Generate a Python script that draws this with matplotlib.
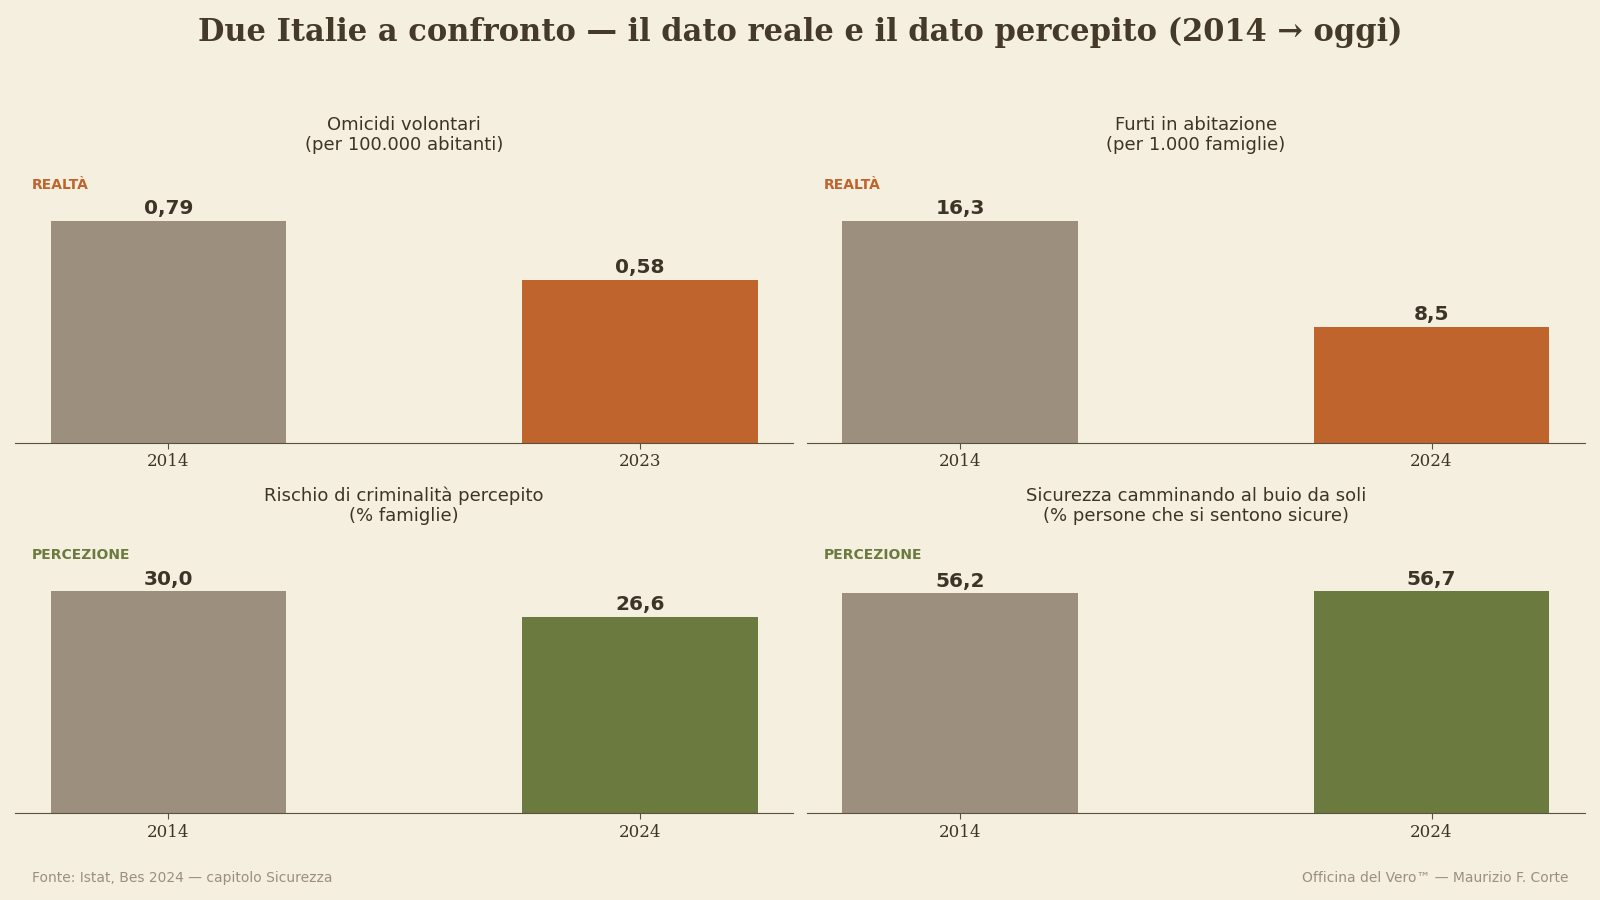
import matplotlib
matplotlib.use("Agg")
import matplotlib.pyplot as plt

# dati (Istat, Bes 2024)
titles = ["Omicidi volontari\n(per 100.000 abitanti)",
          "Furti in abitazione\n(per 1.000 famiglie)",
          "Rischio di criminalità percepito\n(% famiglie)",
          "Sicurezza camminando al buio da soli\n(% persone che si sentono sicure)"]
years = [["2014", "2023"], ["2014", "2024"], ["2014", "2024"], ["2014", "2024"]]
values = [[0.79, 0.58], [16.3, 8.5], [30.0, 26.6], [56.2, 56.7]]
labels = [["0,79", "0,58"], ["16,3", "8,5"], ["30,0", "26,6"], ["56,2", "56,7"]]
tags = ["REALTÀ", "REALTÀ", "PERCEZIONE", "PERCEZIONE"]

BG = "#f5efe0"
INK = "#3d3428"
GREY = "#9c8f7d"
ORANGE = "#c0642e"
GREEN = "#6b7a3e"
tag_col = {"REALTÀ": ORANGE, "PERCEZIONE": GREEN}

fig = plt.figure(figsize=(16, 9), dpi=100, facecolor=BG)

# misure prese sull'immagine (1568x882)
PW, PH = 1568, 882
W = 762 / PW
H = 250 / PH
pos = [(15 / PW, 1 - 434 / PH), (791 / PW, 1 - 434 / PH),
       (15 / PW, 1 - 797 / PH), (791 / PW, 1 - 797 / PH)]

for i in range(4):
    ax = fig.add_axes([pos[i][0], pos[i][1], W, H])
    ax.set_facecolor(BG)
    c = tag_col[tags[i]]
    bars = ax.bar([0, 1], values[i], width=0.5, color=[GREY, c])
    ax.set_ylim(0, max(values[i]) * 1.15)
    for b, lab in zip(bars, labels[i]):
        ax.annotate(lab, (b.get_x() + b.get_width() / 2, b.get_height()),
                    xytext=(0, 2), textcoords="offset points",
                    ha="center", va="bottom", fontsize=14.5, fontweight="bold", color=INK)
    ax.set_xticks([0, 1])
    ax.set_xticklabels(years[i], family="DejaVu Serif", fontsize=12, color=INK)
    ax.tick_params(axis="x", color="#5a5040", length=4)
    ax.set_yticks([])
    for s in ["top", "right", "left"]:
        ax.spines[s].set_visible(False)
    ax.spines["bottom"].set_color("#5a5040")
    ax.set_title(titles[i], fontsize=13, color=INK, pad=27, linespacing=1.15)
    ax.text(0.021, 0.985, tags[i], transform=ax.transAxes, fontsize=10,
            fontweight="bold", color=c, ha="left", va="bottom")

fig.text(0.5, 1 - 32 / PH, "Due Italie a confronto — il dato reale e il dato percepito (2014 → oggi)",
         family="DejaVu Serif", fontsize=22, fontweight="bold", color="#45392a",
         ha="center", va="center")
fig.text(31 / PW, 1 - 860 / PH, "Fonte: Istat, Bes 2024 — capitolo Sicurezza",
         fontsize=10, color="#9c8f7d", ha="left", va="center")
fig.text(1537 / PW, 1 - 860 / PH, "Officina del Vero™ — Maurizio F. Corte",
         fontsize=10, color="#9c8f7d", ha="right", va="center")

fig.savefig("out.png", dpi=100, facecolor=BG)
